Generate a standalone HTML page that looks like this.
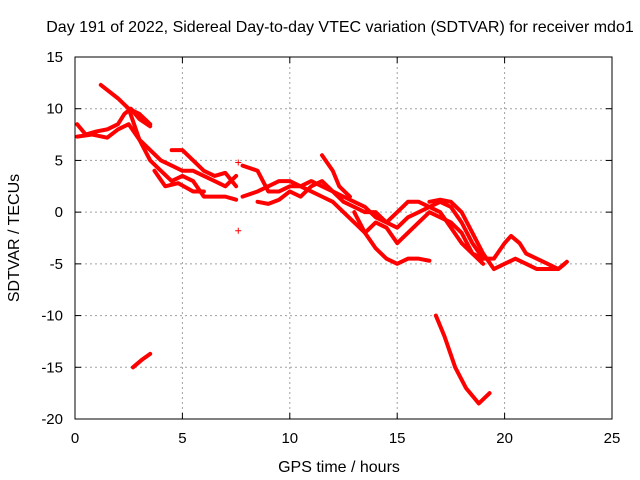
<!DOCTYPE html>
<html><head><meta charset="utf-8"><style>
body{margin:0;background:#fff}
svg{display:block;font-family:"Liberation Sans",sans-serif}
</style></head><body>
<svg id="c" width="640" height="480">
<rect width="640" height="480" fill="#fff"/>
<text x="340" y="32" text-anchor="middle" font-size="16">Day 191 of 2022, Sidereal Day-to-day VTEC variation (SDTVAR) for receiver mdo1</text>
<text x="339" y="472" text-anchor="middle" font-size="16">GPS time / hours</text>
<text transform="translate(19,238) rotate(-90)" text-anchor="middle" font-size="16">SDTVAR / TECUs</text>
<g id="grid"></g><g id="marks"></g>
<rect x="75" y="57" width="537" height="362" fill="none" stroke="#000" stroke-width="1"/>
</svg>
<script>
const xTicks=[0,5,10,15,20,25];
const yTicks=[15,10,5,0,-5,-10,-15,-20];
const tracks=[
[[0.1,8.5],[0.5,7.5],[1,7.8],[1.5,8],[2,8.5],[2.3,9.5],[2.6,10],[3,9],[3.5,8.3]],
[[0.1,7.3],[0.8,7.5],[1.5,7.2],[2,8],[2.5,8.5],[3,7],[3.5,5],[4,4],[4.5,3],[5,3.5],[5.5,3],[6,1.5],[6.5,1.5],[7,1.5],[7.5,1.2]],
[[1.2,12.3],[2,11],[2.5,10],[3,9.5],[3.5,8.5]],
[[2.5,10],[3,7],[3.5,6],[4,5],[4.5,4.5],[5,4],[5.5,4],[6,3.5],[6.5,3],[7,2.5],[7.5,3.5]],
[[3.7,4],[4.2,2.5],[4.8,2.8],[5.5,2],[6,2]],
[[4.5,6],[5,6],[5.5,5],[6,4],[6.5,3.5],[7,3.8],[7.5,2.5]],
[[7.8,4.5],[8.5,4],[9,2],[9.5,2],[10,2.5],[10.5,2.5],[11,2],[11.5,1.5],[12,1],[12.5,0],[13,-1],[13.5,-2],[14,-3.5],[14.5,-4.5],[15,-5],[15.5,-4.5],[16,-4.5],[16.5,-4.7]],
[[7.8,1.5],[8.5,2],[9,2.5],[9.5,3],[10,3],[10.5,2.5],[11,3],[11.5,2.5],[12,2],[12.5,1],[13,0.5],[13.5,0],[14,0],[14.5,-1],[15,-1.5],[15.5,-0.5],[16,0],[16.5,0.5],[17,0],[17.5,-1.5],[18,-3],[18.5,-4],[19,-4.5]],
[[8.5,1],[9,0.8],[9.5,1.2],[10,2],[10.5,1.5],[11,2.5],[11.5,3],[12,2],[12.5,1.5],[13,1],[13.5,0.5],[14,-0.5],[14.5,-1],[15,0],[15.5,1],[16,1],[16.5,0.5],[17,1],[17.5,0.5],[18,-1],[18.5,-3],[19,-4.5],[19.5,-4.5],[20,-3],[20.3,-2.3],[20.7,-3],[21,-4],[21.5,-4.5],[22,-5],[22.5,-5.5],[22.8,-5]],
[[11.5,5.5],[12,4],[12.3,2.5],[12.8,1.5]],
[[13,0],[13.5,-2],[14,-1],[14.5,-1.5],[15,-3],[15.5,-2],[16,-1],[16.5,0],[17,-0.5],[17.5,-1],[18,-2],[18.5,-4],[19,-5]],
[[16.5,1],[17,1.2],[17.5,1],[18,0],[18.5,-2],[19,-4],[19.5,-5.5],[20,-5],[20.5,-4.5],[21,-5],[21.5,-5.5],[22,-5.5],[22.5,-5.5],[22.9,-4.8]],
[[16.8,-10],[17.2,-12],[17.7,-15],[18.2,-17],[18.8,-18.5],[19.3,-17.5]],
[[2.7,-15],[3.1,-14.3],[3.5,-13.7]]
];
const singles=[[7.6,-1.8],[7.6,4.8]];
const NS='http://www.w3.org/2000/svg';
const X=v=>75+v*537/25, Y=v=>57+(15-v)*362/35;
const grid=document.getElementById('grid'), marks=document.getElementById('marks');
function mk(t,a,p){const e=document.createElementNS(NS,t);for(const k in a)e.setAttribute(k,a[k]);p.appendChild(e);return e;}
xTicks.forEach(v=>{
 if(v>0&&v<25){const l=mk('line',{x1:X(v),x2:X(v),y1:57,y2:419,stroke:'#a0a0a0','stroke-dasharray':'2,3'},grid);
 
 }
 mk('line',{x1:X(v),x2:X(v),y1:419,y2:413,stroke:'#000'},grid);mk('line',{x1:X(v),x2:X(v),y1:57,y2:63,stroke:'#000'},grid);
 const t=mk('text',{x:X(v),y:443,'text-anchor':'middle','font-size':15},grid);t.textContent=v;
 
 
});
yTicks.forEach(v=>{
 if(v<15&&v>-20){const l=mk('line',{x1:75,x2:612,y1:Y(v),y2:Y(v),stroke:'#a0a0a0','stroke-dasharray':'2,3'},grid);
 
 }
 mk('line',{x1:75,x2:81,y1:Y(v),y2:Y(v),stroke:'#000'},grid);mk('line',{x1:606,x2:612,y1:Y(v),y2:Y(v),stroke:'#000'},grid);
 const t=mk('text',{x:63,y:Y(v)+5,'text-anchor':'end','font-size':15},grid);t.textContent=v;
 
 
});
tracks.forEach(tr=>{
 const p=mk('polyline',{points:tr.map(d=>X(d[0])+','+Y(d[1])).join(' '),fill:'none',stroke:'#ff0000','stroke-width':4,'stroke-linejoin':'round','stroke-linecap':'round'},marks);
 
 
});
singles.forEach(d=>{
 const p=mk('path',{d:`M${X(d[0])-3},${Y(d[1])}h6M${X(d[0])},${Y(d[1])-3}v6`,stroke:'#ff0000','stroke-width':1},marks);
 
 
});
</script>
</body></html>
